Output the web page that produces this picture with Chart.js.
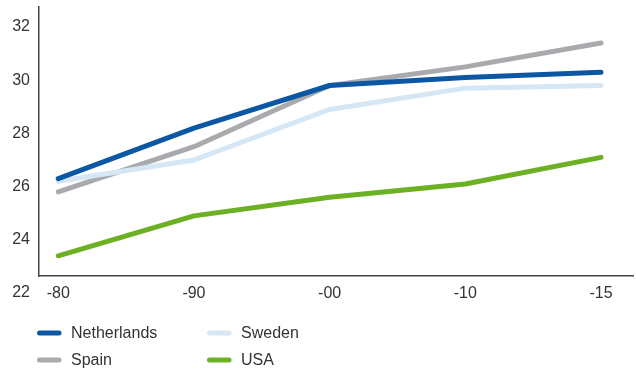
<!DOCTYPE html>
<html>
<head>
<meta charset="utf-8">
<script src="https://cdn.jsdelivr.net/npm/chart.js@4/dist/chart.umd.min.js"></script>
<style>
  html, body { margin: 0; padding: 0; background: #fff; }
  #wrap { width: 636px; height: 371px; }
</style>
</head>
<body>
<div id="wrap"><canvas id="chart" width="636" height="371"></canvas></div>
<script>
// Periods along the x axis
const periods = ['-80', '-90', '-00', '-10', '-15'];

// Series values per period
const netherlands = [26.3, 28.2, 29.8, 30.1, 30.3];
const sweden      = [26.2, 27.0, 28.9, 29.7, 29.8];
const spain       = [25.8, 27.5, 29.8, 30.5, 31.4];
const usa         = [23.4, 24.9, 25.6, 26.1, 27.1];

// Y axis tick labels (22 is printed level with the period labels, below the baseline)
const yTicks = [22, 24, 26, 28, 30, 32];

const FONT = '"Liberation Sans", Arial, Helvetica, sans-serif';
const TEXT = '#333333';

const series = [
  { label: 'Netherlands', values: netherlands, color: '#0b57a4' },
  { label: 'Sweden',      values: sweden,      color: '#d5e6f5' },
  { label: 'Spain',       values: spain,       color: '#a9aaad' },
  { label: 'USA',         values: usa,         color: '#6cb023' }
];

const datasets = series.map(s => ({
  label: s.label,
  data: s.values.map((v, i) => ({ x: i, y: v })),
  borderColor: s.color,
  backgroundColor: s.color,
  borderWidth: 5,
  borderCapStyle: 'round',
  borderJoinStyle: 'round',
  pointRadius: 0,
  tension: 0,
  fill: false
}));

// Two-column legend drawn under the plot
const gridLegend = {
  id: 'gridLegend',
  afterDraw(chart) {
    const { ctx } = chart;
    const cols = [37, 207];
    const rows = [333, 360];
    ctx.save();
    ctx.font = '16px ' + FONT;
    ctx.textBaseline = 'middle';
    chart.data.datasets.forEach((ds, i) => {
      const x = cols[i % 2];
      const y = rows[Math.floor(i / 2)];
      ctx.strokeStyle = ds.borderColor;
      ctx.lineWidth = 5;
      ctx.lineCap = 'round';
      ctx.beginPath();
      ctx.moveTo(x + 2.5, y);
      ctx.lineTo(x + 22, y);
      ctx.stroke();
      ctx.fillStyle = TEXT;
      ctx.fillText(ds.label, x + 34, y + 1);
    });
    ctx.restore();
  }
};

new Chart(document.getElementById('chart'), {
  type: 'line',
  data: { datasets },
  plugins: [gridLegend],
  options: {
    responsive: false,
    animation: false,
    layout: { padding: { left: 0, right: 3, top: 7, bottom: 65 } },
    plugins: {
      legend: { display: false },
      tooltip: { enabled: false }
    },
    scales: {
      x: {
        type: 'linear',
        min: -0.142,
        max: 4.236,
        grid: { display: false, drawTicks: false },
        border: { display: true, color: '#444', width: 1.5 },
        afterBuildTicks(scale) {
          scale.ticks = periods.map((p, i) => ({ value: i }));
        },
        afterFit(scale) {
          scale.height = 30;
          scale.paddingLeft = 0;
          scale.paddingRight = 0;
        },
        ticks: {
          padding: 8,
          maxRotation: 0,
          autoSkip: false,
          color: TEXT,
          font: { family: FONT, size: 16 },
          callback: (v) => periods[v]
        }
      },
      y: {
        type: 'linear',
        min: 22.64,
        max: 32.75,
        grid: { display: false, drawTicks: false },
        border: { display: true, color: '#444', width: 1.5 },
        afterBuildTicks(scale) {
          scale.ticks = yTicks.map(v => ({ value: v }));
        },
        afterFit(scale) {
          scale.width = 39;
          scale.paddingTop = 0;
          scale.paddingBottom = 0;
        },
        ticks: {
          padding: 9,
          color: TEXT,
          font: { family: FONT, size: 16 }
        }
      }
    }
  }
});
</script>
</body>
</html>
